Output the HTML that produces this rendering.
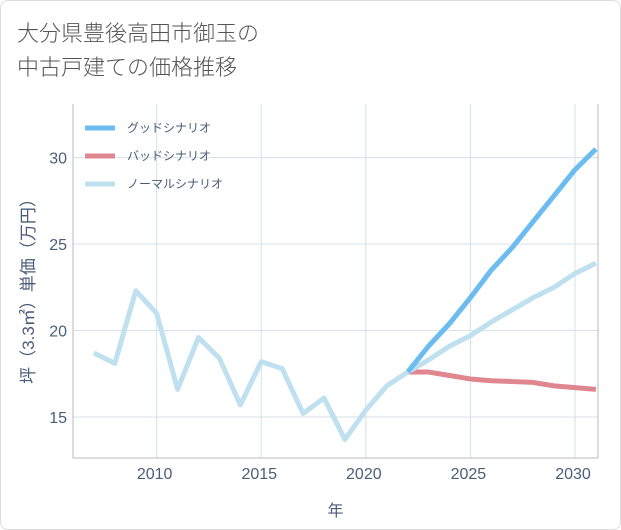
<!DOCTYPE html>
<html><head><meta charset="utf-8"><style>
body{margin:0;background:#fff;font-family:"Liberation Sans","Noto Sans CJK JP",sans-serif}
#wrap{position:relative;width:619px;height:528px;border:1px solid #ddd;border-radius:8px;background:#fff;overflow:hidden}
#title{position:absolute;left:16px;top:14px;font-size:22px;line-height:34px;color:#555;font-family:"Noto Sans CJK JP",sans-serif;font-weight:300}
svg{position:absolute;left:0;top:0}
</style></head><body>
<div id="wrap">
<div id="title">大分県豊後高田市御玉の<br>中古戸建ての価格推移</div>
<svg id="c" width="621" height="530"></svg>
</div>
<script>
const years=[2007,2008,2009,2010,2011,2012,2013,2014,2015,2016,2017,2018,2019,2020,2021,2022];
const hist=[18.7,18.1,22.3,21.0,16.6,19.6,18.4,15.7,18.2,17.8,15.2,16.1,13.7,15.4,16.8,17.6];
const fYears=[2022,2023,2024,2025,2026,2027,2028,2029,2030,2031];
const good=[17.6,19.1,20.4,21.9,23.5,24.8,26.3,27.8,29.3,30.5];
const normal=[17.6,18.3,19.1,19.7,20.5,21.2,21.9,22.5,23.3,23.9];
const bad=[17.6,17.6,17.4,17.2,17.1,17.05,17.0,16.8,16.7,16.6];
const xTicks=[2010,2015,2020,2025,2030];
const yTicks=[15,20,25,30];
const legendLabels=["グッドシナリオ","バッドシナリオ","ノーマルシナリオ"];
const colors=["#6cbcf0","#e0868f","#bfe0ef"];
const L=72,R=597,T=103,B=457,x0=2006.0,x1=2031.1,y0=12.63,y1=33.1;
const X=v=>L+(v-x0)/(x1-x0)*(R-L), Y=v=>B-(v-y0)/(y1-y0)*(B-T);
const svg=document.getElementById('c'),NS='http://www.w3.org/2000/svg';
const tc='#4a5d78';
function mk(t,a,p){const e=document.createElementNS(NS,t);for(const k in a)e.setAttribute(k,a[k]);(p||svg).appendChild(e);return e;}
xTicks.forEach(v=>{const l=mk('line',{x1:X(v),x2:X(v),y1:T,y2:B,stroke:'#d5e0ea','stroke-width':1});

const t=mk('text',{x:X(v)-2,y:B+21,'text-anchor':'middle','font-size':16,fill:tc});t.textContent=v;
});
yTicks.forEach(v=>{const l=mk('line',{x1:L,x2:R,y1:Y(v),y2:Y(v),stroke:'#d5e0ea','stroke-width':1});

const t=mk('text',{x:L-6,y:Y(v)+6,'text-anchor':'end','font-size':16,fill:tc});t.textContent=v;
});
const ax=mk('path',{d:`M${L} ${T}V${B}H${R}V${T}`,fill:'none',stroke:'#bbb','stroke-width':1});

function line(xs,ys,c,n){const p=mk('polyline',{points:xs.map((x,i)=>X(x)+','+Y(ys[i])).join(' '),fill:'none',stroke:c,'stroke-width':5,'stroke-linejoin':'round'});
}
line(fYears,bad,colors[1],'bad-scenario-line');
line(fYears,normal,colors[2],'normal-scenario-line');
line(fYears,good,colors[0],'good-scenario-line');
line(years,hist,colors[2],'historical-line');
legendLabels.forEach((s,i)=>{const y=127+i*28;
const l=mk('line',{x1:84,x2:114,y1:y,y2:y,stroke:colors[i],'stroke-width':5});

const t=mk('text',{x:126,y:y+4,'font-size':12,fill:tc});t.textContent=s;
});
const xt=mk('text',{x:(L+R)/2,y:515,'text-anchor':'middle','font-size':16,fill:tc});xt.textContent='年';

const yt=mk('text',{x:0,y:0,'text-anchor':'middle','font-size':17,fill:tc,transform:`translate(33,${(T+B)/2+6}) rotate(-90)`});yt.textContent='坪（3.3㎡）単価（万円）';

</script>
</body></html>
